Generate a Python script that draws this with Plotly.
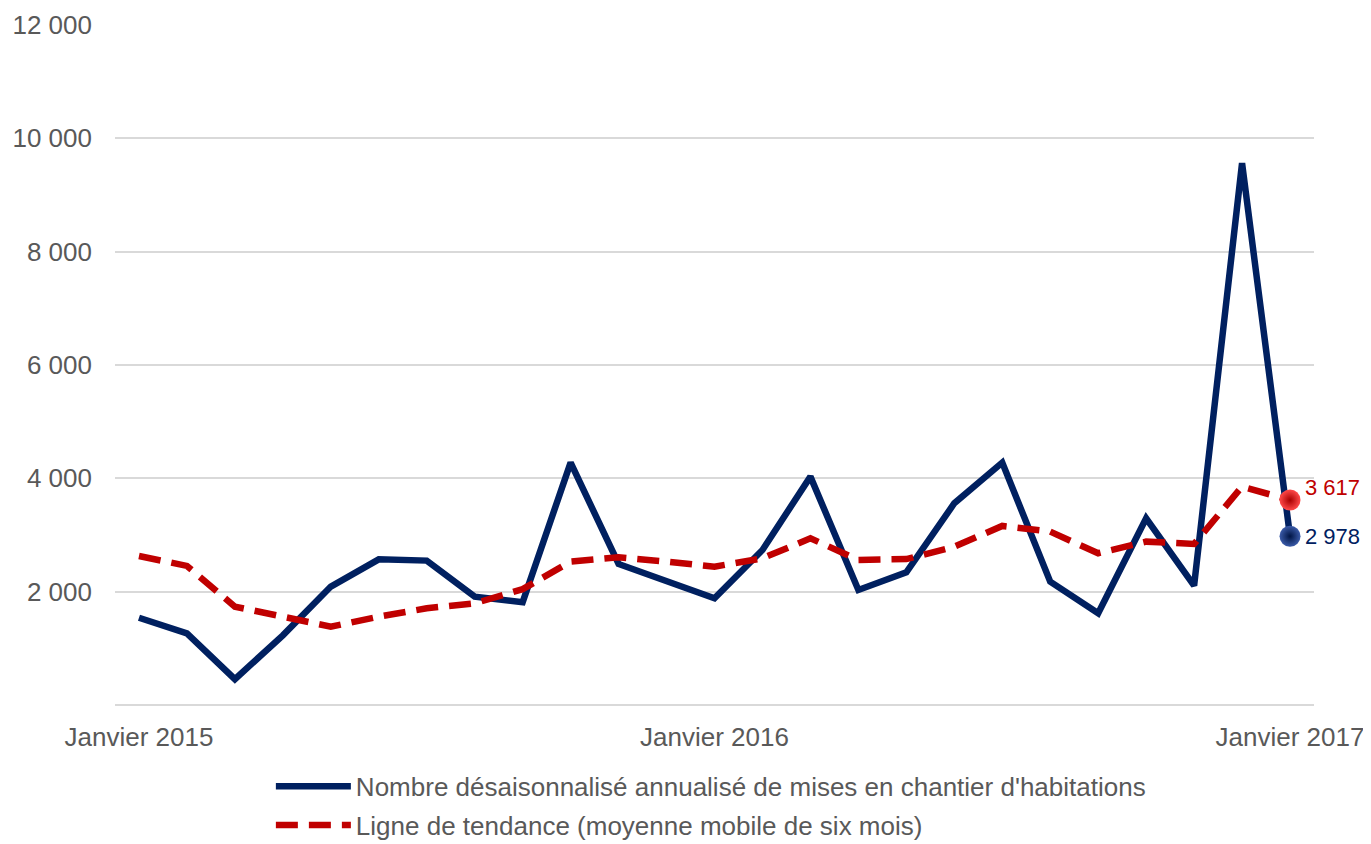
import plotly.graph_objects as go

months = ["2015-01", "2015-02", "2015-03", "2015-04", "2015-05", "2015-06", "2015-07",
          "2015-08", "2015-09", "2015-10", "2015-11", "2015-12", "2016-01", "2016-02",
          "2016-03", "2016-04", "2016-05", "2016-06", "2016-07", "2016-08", "2016-09",
          "2016-10", "2016-11", "2016-12", "2017-01"]

mises_en_chantier = [1540, 1265, 455, 1230, 2090, 2570, 2548, 1912, 1815, 4277, 2489, 2190,
                     1883, 2736, 4030, 2030, 2340, 3560, 4277, 2177, 1618, 3295, 2106, 9562, 2978]

tendance = [2630, 2454, 1735, 1560, 1382, 1559, 1707, 1795, 2045, 2530, 2607, 2530,
            2442, 2589, 2942, 2560, 2575, 2794, 3160, 3060, 2678, 2883, 2842, 3854, 3617]

tick_months = ["2015-01", "2016-01", "2017-01"]
tick_labels = ["Janvier 2015", "Janvier 2016", "Janvier 2017"]
y_ticks = [2000, 4000, 6000, 8000, 10000, 12000]
y_tick_labels = ["2 000", "4 000", "6 000", "8 000", "10 000", "12 000"]

name_blue = "Nombre désaisonnalisé annualisé de mises en chantier d'habitations"
name_red = "Ligne de tendance (moyenne mobile de six mois)"

BLUE = "#002060"
RED = "#C00000"
GREY = "#595959"
FONT = "Liberation Sans, Arial, sans-serif"
FS = 26

fig = go.Figure()
fig.add_trace(go.Scatter(x=months, y=mises_en_chantier, mode="lines", name=name_blue,
                         legendgroup="a", line=dict(color=BLUE, width=6.5)))
fig.add_trace(go.Scatter(x=months, y=tendance, mode="lines", name=name_red,
                         legendgroup="b", line=dict(color=RED, width=6.5, dash="22px,11px")))

# end markers
fig.add_trace(go.Scatter(x=[months[-1]], y=[tendance[-1]], mode="markers", showlegend=False,
                         marker=dict(size=21, color="#FF4A4A",
                                     gradient=dict(type="radial", color="#A80000"),
                                     line=dict(width=0))))
fig.add_trace(go.Scatter(x=[months[-1]], y=[mises_en_chantier[-1]], mode="markers", showlegend=False,
                         marker=dict(size=21, color="#3A5AA8",
                                     gradient=dict(type="radial", color="#001545"),
                                     line=dict(width=0))))

def fmt(v):
    return f"{v:,}".replace(",", " ")

fig.add_annotation(x=months[-1], y=tendance[-1], text=fmt(tendance[-1]), showarrow=False,
                   xanchor="left", xshift=13, yshift=13, font=dict(color=RED, size=22, family=FONT))
fig.add_annotation(x=months[-1], y=mises_en_chantier[-1], text=fmt(mises_en_chantier[-1]), showarrow=False,
                   xanchor="left", xshift=13, font=dict(color=BLUE, size=22, family=FONT))

fig.update_layout(
    width=1363, height=836,
    margin=dict(l=107, r=57, t=17, b=139, autoexpand=False),
    plot_bgcolor="white", paper_bgcolor="white",
    font=dict(family=FONT, color=GREY, size=FS),
    legend=dict(orientation="v", x=0.130, xanchor="left", y=-0.085, yanchor="top",
                font=dict(size=FS, color=GREY), itemwidth=75, tracegroupgap=2,
                bgcolor="rgba(0,0,0,0)"),
    showlegend=True,
)
fig.update_xaxes(type="category", range=[-0.5, 24.5], tickmode="array", automargin=False,
                 tickvals=tick_months, ticktext=tick_labels, showgrid=False,
                 showline=False, ticks="", ticklabelstandoff=14, tickfont=dict(size=FS, color=GREY))
fig.update_yaxes(range=[0, 12000], tickmode="array", tickvals=y_ticks, ticktext=y_tick_labels,
                 automargin=False, showgrid=True, gridcolor="#D9D9D9", gridwidth=1.5, zeroline=True,
                 zerolinecolor="#D9D9D9", zerolinewidth=1.5, ticks="", ticklabelstandoff=22,
                 tickfont=dict(size=FS, color=GREY))

fig.write_html("out.html")
